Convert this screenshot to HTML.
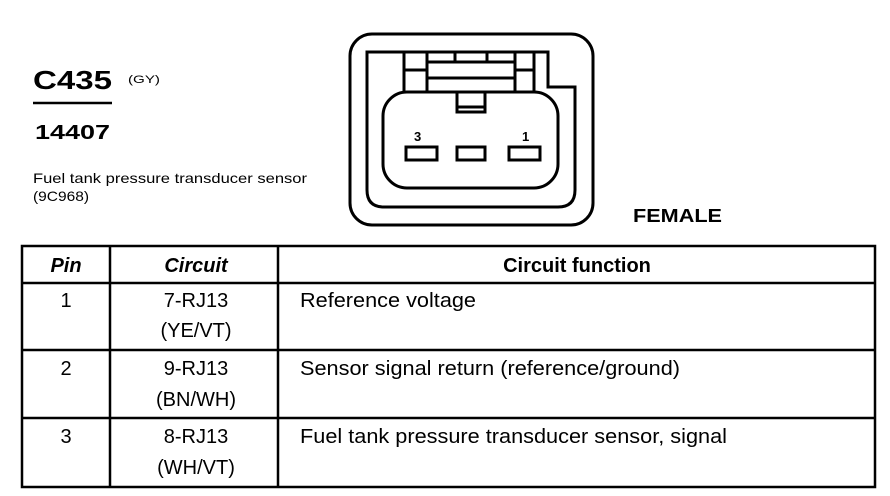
<!DOCTYPE html>
<html><head><meta charset="utf-8"><style>
html,body{margin:0;padding:0;background:#fff;}
svg{display:block;font-family:"Liberation Sans",Arial,sans-serif;}
</style></head><body>
<svg width="890" height="496" viewBox="0 0 890 496" xmlns="http://www.w3.org/2000/svg">
<g fill="#000">
<text x="33" y="89" font-size="26" font-weight="bold" textLength="79" lengthAdjust="spacingAndGlyphs">C435</text>
<text x="128" y="83" font-size="11" textLength="32" lengthAdjust="spacingAndGlyphs">(GY)</text>
<text x="35" y="139" font-size="20" font-weight="bold" textLength="75" lengthAdjust="spacingAndGlyphs">14407</text>
<text x="33" y="183" font-size="14" textLength="274" lengthAdjust="spacingAndGlyphs">Fuel tank pressure transducer sensor</text>
<text x="33" y="201" font-size="14" textLength="56" lengthAdjust="spacingAndGlyphs">(9C968)</text>
<text x="633" y="222" font-size="18" font-weight="bold" textLength="89" lengthAdjust="spacingAndGlyphs">FEMALE</text>
</g>
<line x1="33" y1="103" x2="112" y2="103" stroke="#000" stroke-width="2.5"/>

<g fill="none" stroke="#000" stroke-width="3">
<rect x="350" y="34" width="243" height="191" rx="22"/>
<path d="M367 52 H548 V87 H575 V190 Q575 207 558 207 H384 Q367 207 367 190 Z"/>
<line x1="404" y1="52" x2="404" y2="92"/>
<line x1="427" y1="52" x2="427" y2="92"/>
<line x1="515" y1="52" x2="515" y2="92"/>
<line x1="534" y1="52" x2="534" y2="92"/>
<line x1="427" y1="62" x2="515" y2="62"/>
<line x1="427" y1="78" x2="515" y2="78"/>
<line x1="404" y1="70" x2="427" y2="70"/>
<line x1="515" y1="70" x2="534" y2="70"/>
<line x1="455" y1="52" x2="455" y2="62"/>
<line x1="487" y1="52" x2="487" y2="62"/>
<rect x="383" y="92" width="175" height="96" rx="24"/>
<path d="M457 92 V112 H485 V92"/>
<line x1="457" y1="107" x2="485" y2="107"/>
<rect x="406" y="147" width="31" height="13"/>
<rect x="457" y="147" width="28" height="13"/>
<rect x="509" y="147" width="31" height="13"/>
</g>
<g fill="#000" font-size="13" font-weight="bold">
<text x="414" y="141">3</text>
<text x="522" y="141">1</text>
</g>

<g fill="none" stroke="#000" stroke-width="2.5">
<rect x="22" y="246" width="853" height="241"/>
<line x1="22" y1="283" x2="875" y2="283"/>
<line x1="22" y1="350" x2="875" y2="350"/>
<line x1="22" y1="418" x2="875" y2="418"/>
<line x1="110" y1="246" x2="110" y2="487"/>
<line x1="278" y1="246" x2="278" y2="487"/>
</g>
<g fill="#000" font-size="20">
<text x="66" y="272" text-anchor="middle" font-weight="bold" font-style="italic">Pin</text>
<text x="196" y="272" text-anchor="middle" font-weight="bold" font-style="italic">Circuit</text>
<text x="577" y="272" text-anchor="middle" font-weight="bold">Circuit function</text>
<text x="66" y="307" text-anchor="middle">1</text>
<text x="196" y="307" text-anchor="middle">7-RJ13</text>
<text x="196" y="337" text-anchor="middle">(YE/VT)</text>
<text x="300" y="307" textLength="176" lengthAdjust="spacingAndGlyphs">Reference voltage</text>
<text x="66" y="375" text-anchor="middle">2</text>
<text x="196" y="375" text-anchor="middle">9-RJ13</text>
<text x="196" y="406" text-anchor="middle">(BN/WH)</text>
<text x="300" y="375" textLength="380" lengthAdjust="spacingAndGlyphs">Sensor signal return (reference/ground)</text>
<text x="66" y="443" text-anchor="middle">3</text>
<text x="196" y="443" text-anchor="middle">8-RJ13</text>
<text x="196" y="474" text-anchor="middle">(WH/VT)</text>
<text x="300" y="443" textLength="427" lengthAdjust="spacingAndGlyphs">Fuel tank pressure transducer sensor, signal</text>
</g>
</svg>
</body></html>
